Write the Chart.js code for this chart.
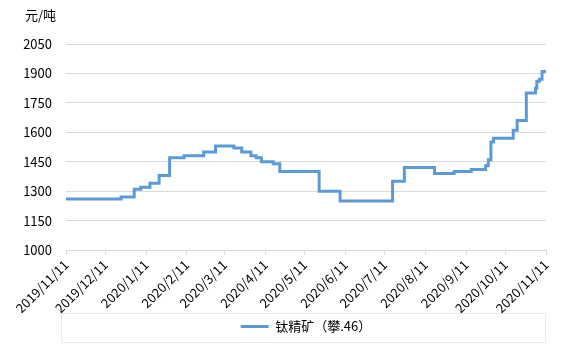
<!DOCTYPE html>
<html>
<head>
<meta charset="utf-8">
<script src="https://cdn.jsdelivr.net/npm/chart.js@4"></script>
<style>
  html, body { margin: 0; padding: 0; background: #fff; }
</style>
</head>
<body>
<canvas id="priceChart" width="567" height="360"></canvas>
<script>
const seriesName = '钛精矿（攀.46）';
const unitLabel = '元/吨';

// dates where the price changed, and the new price from that day on
const changeDates = [
    '2019/11/11', '2019/12/23', '2020/1/2', '2020/1/7', '2020/1/14', '2020/1/21',
    '2020/1/29', '2020/2/9', '2020/2/24', '2020/3/4', '2020/3/18', '2020/3/24',
    '2020/3/31', '2020/4/4', '2020/4/8', '2020/4/17', '2020/4/22', '2020/5/22',
    '2020/6/7', '2020/7/17', '2020/7/26', '2020/8/18', '2020/9/2', '2020/9/15',
    '2020/9/26', '2020/9/28', '2020/9/30', '2020/10/2', '2020/10/17', '2020/10/20',
    '2020/10/27', '2020/11/3', '2020/11/4', '2020/11/6', '2020/11/8', '2020/11/11'
];
const prices = [
    1260, 1270, 1310, 1320, 1340, 1380,
    1470, 1480, 1500, 1530, 1520, 1500,
    1480, 1470, 1450, 1440, 1400, 1300,
    1250, 1350, 1420, 1390, 1400, 1410,
    1430, 1460, 1550, 1570, 1610, 1660,
    1800, 1825, 1860, 1870, 1910, 1910
];

const xTickLabels = [
    '2019/11/11', '2019/12/11', '2020/1/11', '2020/2/11', '2020/3/11', '2020/4/11',
    '2020/5/11', '2020/6/11', '2020/7/11', '2020/8/11', '2020/9/11', '2020/10/11',
    '2020/11/11'
];
const yMin = 1000;
const yMax = 2050;
const yStep = 150;

const fontFamily = "'Noto Sans CJK SC', 'Noto Sans', sans-serif";

function toUtc(str) {
    const [y, m, d] = str.split('/').map(Number);
    return Date.UTC(y, m - 1, d);
}

const origin = toUtc(xTickLabels[0]);
function dayIndex(str) {
    return Math.round((toUtc(str) - origin) / 86400000);
}

const xTickDays = xTickLabels.map(dayIndex);
const labelByDay = {};
xTickLabels.forEach((label, i) => { labelByDay[xTickDays[i]] = label; });

const points = changeDates.map((d, i) => ({ x: dayIndex(d), y: prices[i] }));

// frame round the legend + unit text above the y axis
const extras = {
    id: 'extras',
    afterDraw(chart) {
        const { ctx, legend, chartArea } = chart;
        ctx.save();
        ctx.strokeStyle = '#ebebeb';
        ctx.lineWidth = 1;
        ctx.strokeRect(chartArea.left - 4.5, legend.top + 0.5,
            chartArea.right - chartArea.left + 4, legend.height - 1);

        ctx.fillStyle = '#000';
        ctx.font = '13px ' + fontFamily;
        ctx.textAlign = 'right';
        ctx.textBaseline = 'middle';
        ctx.fillText(unitLabel, chartArea.left - 10, 15);
        ctx.restore();
    }
};

const ctx = document.getElementById('priceChart').getContext('2d');
new Chart(ctx, {
    type: 'line',
    data: {
        datasets: [{
            label: seriesName,
            data: points,
            borderColor: '#5b9bd5',
            backgroundColor: '#5b9bd5',
            borderWidth: 3,
            pointRadius: 0,
            stepped: 'before',
            fill: false,
        }],
    },
    options: {
        responsive: false,
        animation: false,
        layout: {
            padding: { top: 44, right: 21, bottom: 17, left: 0 },
        },
        plugins: {
            tooltip: { enabled: false },
            legend: {
                position: 'bottom',
                fullSize: false,
                labels: {
                    usePointStyle: true,
                    pointStyle: 'line',
                    pointStyleWidth: 28,
                    boxWidth: 28,
                    padding: 7,
                    color: '#000',
                    font: { family: fontFamily, size: 13 },
                },
            },
        },
        scales: {
            x: {
                type: 'linear',
                min: 0,
                max: xTickDays[xTickDays.length - 1],
                afterBuildTicks: axis => {
                    axis.ticks = xTickDays.map(v => ({ value: v }));
                },
                afterFit: scale => { scale.height = 63; },
                grid: {
                    drawOnChartArea: false,
                    drawTicks: true,
                    tickLength: 5,
                    color: '#d9d9d9',
                },
                border: { display: true, color: '#d9d9d9' },
                ticks: {
                    autoSkip: false,
                    maxRotation: 45,
                    minRotation: 45,
                    padding: 2,
                    color: '#000',
                    font: { family: fontFamily, size: 13 },
                    callback: value => labelByDay[value] || '',
                },
            },
            y: {
                min: yMin,
                max: yMax,
                afterFit: scale => { scale.width = 66; },
                grid: {
                    color: '#d9d9d9',
                    drawTicks: false,
                },
                border: { display: false },
                ticks: {
                    stepSize: yStep,
                    padding: 14,
                    color: '#000',
                    font: { family: fontFamily, size: 13 },
                    callback: value => String(value),
                },
            },
        },
    },
    plugins: [extras],
});
</script>
</body>
</html>
